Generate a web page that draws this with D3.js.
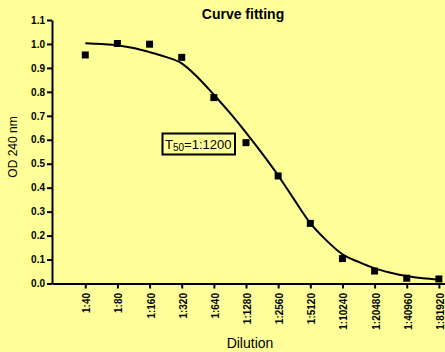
<!DOCTYPE html>
<html>
<head>
<meta charset="utf-8">
<script src="https://cdn.jsdelivr.net/npm/d3@7"></script>
<style>
  html, body { margin: 0; padding: 0; background: #ffff99; }
  svg { display: block; font-family: "Liberation Sans", Arial, sans-serif; }
</style>
</head>
<body>
<svg id="chart" width="445" height="352"></svg>
<script>
// Dilution categories (x axis, log2 spaced)
const dilutions = ["1:40","1:80","1:160","1:320","1:640","1:1280","1:2560","1:5120","1:10240","1:20480","1:40960","1:81920"];
// Measured OD values
const odValues = [0.954, 1.002, 0.999, 0.944, 0.776, 0.588, 0.449, 0.251, 0.104, 0.052, 0.022, 0.019];
// Fitted curve, read at half-dilution steps (index positions)
const fitIndex = [0,0.5,1,1.5,2,2.5,3,3.5,4,4.5,5,5.5,6,6.5,7,7.5,8,8.5,9,9.5,10,10.5,11];
const fitValues = [1.003,1.0,0.995,0.983,0.966,0.946,0.919,0.86,0.788,0.712,0.63,0.543,0.451,0.35,0.252,0.18,0.122,0.09,0.063,0.045,0.031,0.022,0.017];
// Y ticks
const yTicks = [0,0.1,0.2,0.3,0.4,0.5,0.6,0.7,0.8,0.9,1.0,1.1];

const svg = d3.select("#chart");
const x = d3.scaleLinear().domain([-1.035, 11.19]).range([52, 445]);
const y = d3.scaleLinear().domain([0, 1.1]).range([283.5, 20]);

// Title
svg.append("text").attr("x", 243).attr("y", 19).attr("text-anchor", "middle")
  .attr("font-size", 14).attr("font-weight", "bold").text("Curve fitting");

// Y axis
const yAxis = svg.append("g").attr("transform", "translate(52,0)")
  .call(d3.axisLeft(y).tickValues(yTicks).tickFormat(d3.format(".1f")).tickSize(5).tickSizeOuter(0).tickPadding(2));
yAxis.select(".domain").attr("stroke", "#000").attr("stroke-width", 2);
yAxis.selectAll(".tick line").attr("stroke", "#000").attr("stroke-width", 2);
yAxis.selectAll(".tick text").attr("font-size", 10).attr("font-weight", "bold")
  .attr("font-family", "Liberation Sans, Arial, sans-serif").attr("fill", "#000");

// X axis
const xAxis = svg.append("g").attr("transform", "translate(0,283.5)")
  .call(d3.axisBottom(x).tickValues(d3.range(dilutions.length)).tickFormat(i => dilutions[i]).tickSize(5).tickSizeOuter(0));
xAxis.select(".domain").attr("stroke", "#000").attr("stroke-width", 2);
xAxis.selectAll(".tick line").attr("stroke", "#000").attr("stroke-width", 2);
xAxis.selectAll(".tick text")
  .attr("transform", "rotate(-90)")
  .attr("x", -9.5).attr("y", 0).attr("dy", "0.45em")
  .attr("text-anchor", "end")
  .attr("font-size", 10).attr("font-weight", "bold")
  .attr("font-family", "Liberation Sans, Arial, sans-serif").attr("fill", "#000");

// Axis titles
svg.append("text").attr("x", 250).attr("y", 348).attr("text-anchor", "middle")
  .attr("font-size", 14).text("Dilution");
svg.append("text").attr("transform", "translate(16.5,147) rotate(-90)").attr("text-anchor", "middle")
  .attr("font-size", 12).text("OD 240 nm");

// Fitted curve
const line = d3.line().x(d => x(d[0])).y(d => y(d[1])).curve(d3.curveMonotoneX);
svg.append("path").datum(fitIndex.map((d, k) => [d, fitValues[k]]))
  .attr("d", line).attr("fill", "none").attr("stroke", "#000").attr("stroke-width", 2);

// Data points
svg.append("g").selectAll("rect").data(odValues).join("rect")
  .attr("x", (d, i) => x(i) - 3.5).attr("y", d => y(d) - 3.5)
  .attr("width", 7).attr("height", 7).attr("fill", "#000");

// T50 annotation
const ann = svg.append("g");
ann.append("rect").attr("x", 162.5).attr("y", 133.5).attr("width", 72.5).attr("height", 21)
  .attr("fill", "#ffff99").attr("stroke", "#000").attr("stroke-width", 2);
const t = ann.append("text").attr("x", 165).attr("y", 149.3).attr("font-size", 13);
t.append("tspan").text("T");
t.append("tspan").attr("font-size", 10).attr("dy", 2).text("50");
t.append("tspan").attr("dy", -2).text("=1:1200");
</script>
</body>
</html>
